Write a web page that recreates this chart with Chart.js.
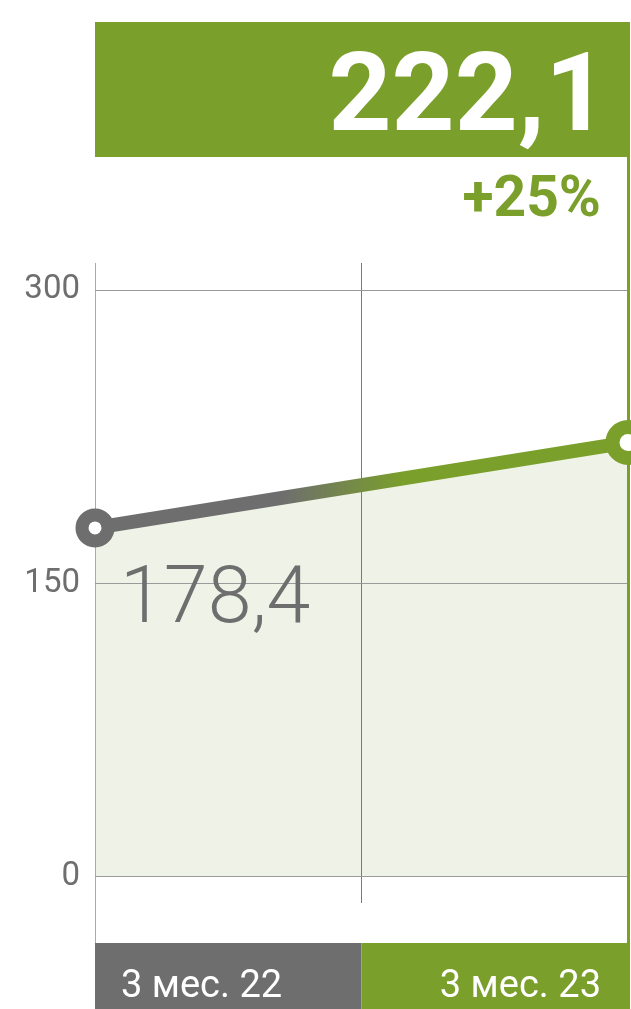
<!DOCTYPE html>
<html>
<head>
<meta charset="utf-8">
<script src="https://cdn.jsdelivr.net/npm/chart.js@4.4.1/dist/chart.umd.min.js"></script>
<style>
  html, body { margin: 0; padding: 0; background: #fff; }
  #wrap { position: relative; width: 631px; height: 1009px; }
</style>
</head>
<body>
<div id="wrap"><canvas id="chart" width="631" height="1009"></canvas></div>
<script>
// データ
const periods = ['3 мес. 22', '3 мес. 23'];
const periodPos = [0, 2];
const values = [178.4, 222.1];
const yTicks = [0, 150, 300];
const changeLabel = '+25%';

const GREEN = '#7a9f2a';
const GRAY = '#6e6e6e';
const FILL = '#eff3e7';
const FONT = 'Roboto, "Noto Sans", sans-serif';

const fmt = v => String(v).replace('.', ',');

// 線のグラデーション (灰 -> 緑)
function lineGradient(c) {
    const chart = c.chart;
    const a = chart.chartArea;
    if (!a) return GRAY;
    const g = chart.ctx.createLinearGradient(a.left, 0, a.right, 0);
    g.addColorStop(0, GRAY);
    g.addColorStop(0.35, GRAY);
    g.addColorStop(0.58, GREEN);
    g.addColorStop(1, GREEN);
    return g;
}

// 見出し・下部ラベルなどの装飾
const decor = {
    id: 'decor',
    beforeDatasetsDraw(chart) {
        const { ctx, chartArea: a } = chart;
        ctx.save();
        // 右端の緑の縦線
        ctx.strokeStyle = GREEN;
        ctx.lineWidth = 3;
        ctx.beginPath();
        ctx.moveTo(a.right + 0.5, 22);
        ctx.lineTo(a.right + 0.5, chart.height);
        ctx.stroke();
        // 左の軸線を下まで延長
        ctx.strokeStyle = '#ababab';
        ctx.lineWidth = 1;
        ctx.beginPath();
        ctx.moveTo(a.left + 0.5, a.bottom);
        ctx.lineTo(a.left + 0.5, a.bottom + 40);
        ctx.stroke();
        ctx.restore();
    },
    afterDraw(chart) {
        const { ctx, chartArea: a, scales } = chart;
        const x = scales.x;
        const mid = x.getPixelForValue((periodPos[0] + periodPos[1]) / 2);
        ctx.save();

        // 見出しボックス
        ctx.fillStyle = GREEN;
        ctx.fillRect(a.left, 22, a.right - a.left, 135);
        ctx.fillStyle = '#fff';
        ctx.font = `bold 110px ${FONT}`;
        ctx.textAlign = 'right';
        ctx.textBaseline = 'alphabetic';
        ctx.fillText(fmt(values[1]), a.right - 20, 130);

        // 変化率
        ctx.fillStyle = GREEN;
        ctx.font = `bold 57px ${FONT}`;
        ctx.fillText(changeLabel, a.right - 27, 216);

        // 最初の値
        const p0 = chart.getDatasetMeta(0).data[0];
        ctx.fillStyle = GRAY;
        ctx.font = `300 79px ${FONT}`;
        ctx.textAlign = 'left';
        ctx.fillText(fmt(values[0]), p0.x + 25, 622);

        // 下部の期間ラベル
        const top = a.bottom + 40;
        const h = chart.height - top;
        ctx.fillStyle = GRAY;
        ctx.fillRect(a.left, top, mid - a.left, h);
        ctx.fillStyle = GREEN;
        ctx.fillRect(mid, top, a.right - mid, h);
        ctx.fillStyle = '#fff';
        ctx.font = `38px ${FONT}`;
        ctx.textAlign = 'left';
        ctx.fillText(periods[0], a.left + 26, 997);
        ctx.textAlign = 'right';
        ctx.fillText(periods[1], a.right - 27, 997);

        ctx.restore();
    }
};

new Chart(document.getElementById('chart'), {
    type: 'line',
    data: {
        datasets: [{
            data: periodPos.map((p, i) => ({ x: p, y: values[i] })),
            borderColor: lineGradient,
            borderWidth: 14,
            fill: 'origin',
            backgroundColor: FILL,
            pointRadius: [13, 15.5],
            pointBorderWidth: [13, 14],
            pointBorderColor: [GRAY, GREEN],
            pointBackgroundColor: '#fff',
            clip: false,
            tension: 0
        }]
    },
    options: {
        responsive: false,
        animation: false,
        events: [],
        layout: { autoPadding: false, padding: { top: 263, right: 3, left: 0, bottom: 0 } },
        plugins: {
            legend: { display: false },
            tooltip: { enabled: false },
            filler: { drawTime: 'beforeDraw' }
        },
        scales: {
            x: {
                type: 'linear',
                min: periodPos[0],
                max: periodPos[1],
                afterBuildTicks: s => { s.ticks = [0, 1, 2].map(v => ({ value: v })); },
                afterFit: s => { s.height = 106; },
                ticks: { display: false },
                border: { display: false },
                grid: {
                    drawTicks: false,
                    lineWidth: 1,
                    color: c => ['#ababab', '#7a7a7a', 'rgba(0,0,0,0)'][c.index]
                }
            },
            y: {
                min: -13.3,
                max: 313.8,
                afterBuildTicks: s => { s.ticks = yTicks.map(v => ({ value: v })); },
                afterFit: s => { s.width = 95; },
                border: { display: false },
                grid: { drawTicks: false, color: '#9a9a9a', lineWidth: 1 },
                ticks: {
                    padding: 15,
                    color: GRAY,
                    font: { family: FONT, size: 33 },
                    callback: v => String(v)
                }
            }
        }
    },
    plugins: [decor]
});
</script>
</body>
</html>
